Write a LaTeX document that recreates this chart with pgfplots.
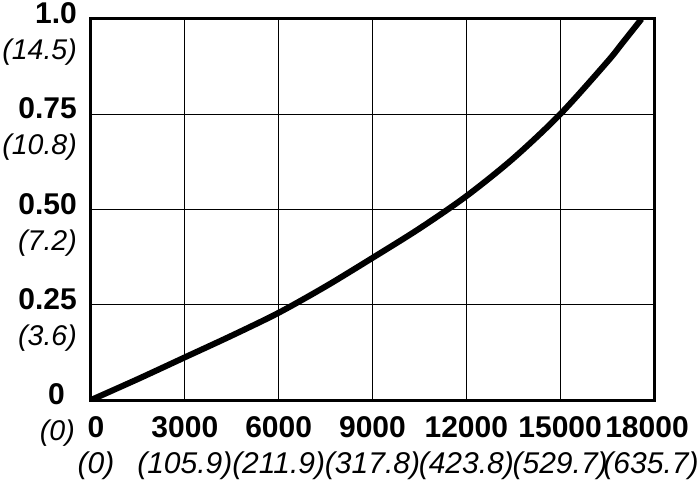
\documentclass[border=0pt]{standalone}
\usepackage{fontspec}
\setmainfont{Liberation Sans}
\usepackage{pgfplots}
\pgfplotsset{compat=1.18}
\newcommand{\pad}[1]{\rule{#1}{0pt}}
\newcommand{\yi}[1]{{\fontsize{28.5bp}{36bp}\selectfont\textit{#1}}}
\begin{document}
\begin{tikzpicture}
\begin{axis}[
  scale only axis, width=563bp, height=381bp,
  xmin=0, xmax=18000, ymin=0, ymax=1,
  xtick={0,3000,6000,9000,12000,15000,18000},
  ytick={0,0.25,0.5,0.75,1},
  grid=major, major grid style={black, line width=1.3bp},
  axis line style={black, line width=3bp},
  major tick length=0pt,
  scaled x ticks=false,
  xticklabels={
    {\pad{10bp}\textbf{0}\\\pad{10bp}\textit{(0)}},
    {\textbf{3000}\\\textit{(105.9)}},
    {\textbf{6000}\\\textit{(211.9)}},
    {\textbf{9000}\\\textit{(317.8)}},
    {\textbf{12000}\\\textit{(423.8)}},
    {\textbf{15000}\\\textit{(529.7)}},
    {\textbf{18000}\pad{14bp}\\\textit{(635.7)}\pad{6bp}}},
  yticklabels={
    {\textbf{0}\pad{12bp}\\\yi{(0)}\pad{2bp}},
    {\textbf{0.25}\\\yi{(3.6)}},
    {\textbf{0.50}\\\yi{(7.2)}},
    {\textbf{0.75}\\\yi{(10.8)}},
    {\textbf{1.0}\\\yi{(14.5)}}},
  x tick label style={font=\fontsize{30bp}{36bp}\selectfont, align=center, anchor=north, inner sep=0pt, yshift=-16bp},
  y tick label style={font=\fontsize{30bp}{36bp}\selectfont, align=right, anchor=east, inner sep=0pt, xshift=-14bp, yshift=-15bp},
]
\addplot[black, line width=6bp, smooth] coordinates {
  (0,0) (1500,0.055) (3000,0.112) (4500,0.169) (6000,0.229) (7500,0.298)
  (9000,0.373) (10500,0.45) (12000,0.535) (13500,0.634) (15000,0.75)
  (16500,0.887) (17000,0.938) (17600,1.0)
};
\coordinate (O) at (rel axis cs:0,0);
\coordinate (T) at (rel axis cs:1,1);
\end{axis}
\pgfresetboundingbox
\path[use as bounding box] ([shift={(-91bp,-81bp)}]O) rectangle ([shift={(46bp,19bp)}]T);
\end{tikzpicture}
\end{document}
